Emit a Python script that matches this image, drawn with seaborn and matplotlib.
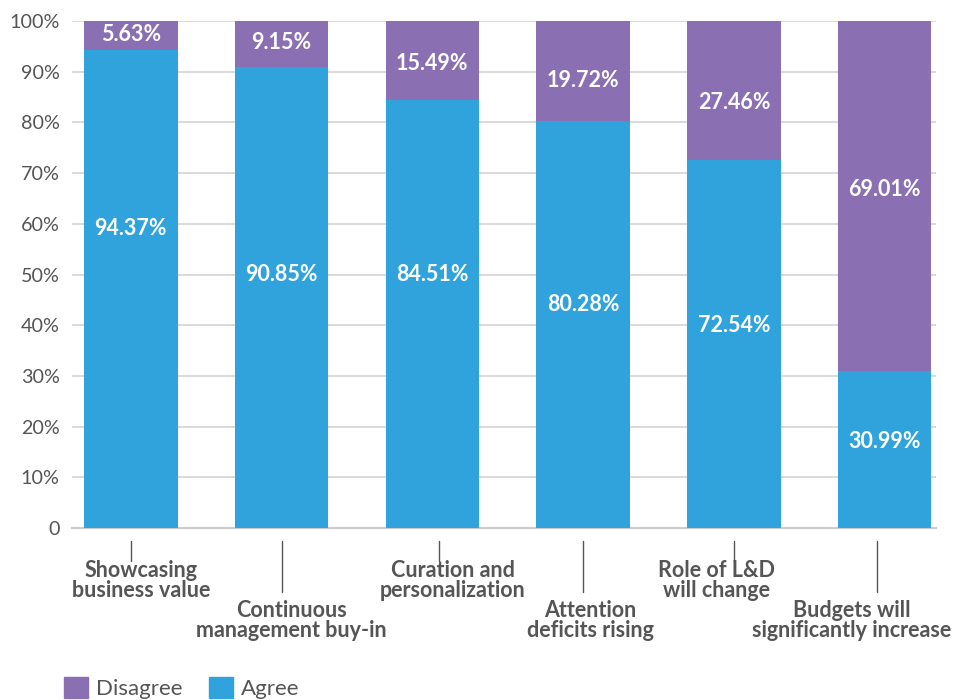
import matplotlib
matplotlib.use('Agg')
import matplotlib.pyplot as plt
import seaborn as sns
import pandas as pd
from matplotlib.patches import Patch

# data
categories = ['Showcasing\nbusiness value', 'Continuous\nmanagement buy-in', 'Curation and\npersonalization',
              'Attention\ndeficits rising', 'Role of L&D\nwill change', 'Budgets will\nsignificantly increase']
agree = [94.37, 90.85, 84.51, 80.28, 72.54, 30.99]
disagree = [5.63, 9.15, 15.49, 19.72, 27.46, 69.01]
yticks = [0, 10, 20, 30, 40, 50, 60, 70, 80, 90, 100]
ytick_labels = ['0', '10%', '20%', '30%', '40%', '50%', '60%', '70%', '80%', '90%', '100%']

# label placement (chart units)
agree_label_y = [59, 50, 50, 44, 40, 17]
disagree_label_y = [97.4, 95.7, 91.7, 88.2, 84, 66.7]
long_tick = [False, True, False, True, False, True]
tick_dx = [0.0, 0.0, 0.046, 0.0, 0.0, -0.053]
label_dx = [0.066, 0.066, 0.135, 0.046, -0.113, -0.22]

blue = '#30a3dc'
purple = '#8b6fb3'
txt = '#555555'

sns.set_theme(style='white')
plt.rcParams['font.family'] = ['Lato', 'DejaVu Sans']

df = pd.DataFrame({'cat': categories, 'agree': agree, 'disagree': disagree})
df['total'] = df['agree'] + df['disagree']

fig = plt.figure(figsize=(9.56, 7), dpi=100)
ax = fig.add_axes([0.0753, 0.2457, 0.9037, 0.7243])

sns.barplot(data=df, x='cat', y='total', color=purple, width=0.62, saturation=1, linewidth=0, ax=ax, zorder=2)
sns.barplot(data=df, x='cat', y='agree', color=blue, width=0.62, saturation=1, linewidth=0, ax=ax, zorder=3)

ax.set_ylim(0, 100)
ax.set_xlim(-0.39, 5.34)
ax.set_yticks(yticks)
ax.set_yticklabels(ytick_labels, fontsize=14.2, color=txt)
ax.yaxis.grid(True, color='#d3d3d3', linewidth=1.2, zorder=0)
ax.set_axisbelow(True)
ax.tick_params(axis='y', length=0, pad=9)
ax.set_xticks([])
ax.set_xlabel('')
ax.set_ylabel('')
for s in ['top', 'right', 'left']:
    ax.spines[s].set_visible(False)
ax.spines['bottom'].set_color('#cccccc')
ax.spines['bottom'].set_linewidth(1.5)

# value labels
for i in range(len(categories)):
    ax.text(i, agree_label_y[i], f'{agree[i]:.2f}%', ha='center', va='center',
            color='white', fontsize=15.5, fontweight='bold', zorder=5)
    ax.text(i, disagree_label_y[i], f'{disagree[i]:.2f}%', ha='center', va='center',
            color='white', fontsize=15.5, fontweight='bold', zorder=5)

# staggered category labels with tick lines
tr = ax.get_xaxis_transform()
for i, lab in enumerate(categories):
    end = -0.126 if long_tick[i] else -0.065
    ax.plot([i + tick_dx[i]] * 2, [-0.0256, end], color=txt, linewidth=1, transform=tr, clip_on=False)
    ty = -0.142 if long_tick[i] else -0.063
    ax.text(i + label_dx[i], ty, lab, transform=tr, ha='center', va='top', fontsize=15.5,
            fontweight='bold', color=txt, linespacing=0.97)

handles = [Patch(color=purple, label='Disagree'), Patch(color=blue, label='Agree')]
fig.legend(handles=handles, loc='center left', bbox_to_anchor=(0.067, 0.017), ncol=2, frameon=False,
           fontsize=16, handlelength=1.08, handleheight=1.08, handletextpad=0.36, columnspacing=1.17,
           borderpad=0, borderaxespad=0, labelcolor=txt)

fig.savefig('out.png', dpi=100)
